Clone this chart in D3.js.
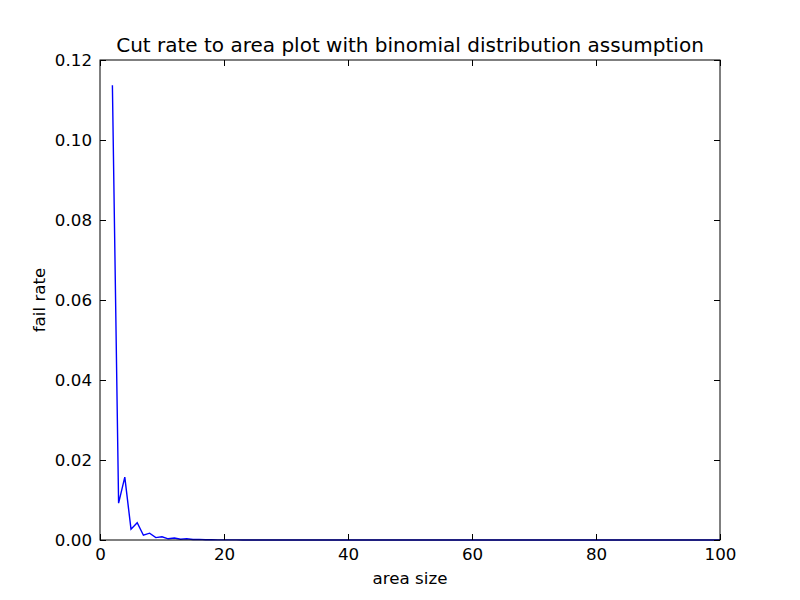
<!DOCTYPE html>
<html><head><meta charset="utf-8">
<script src="https://cdn.jsdelivr.net/npm/d3@7"></script>
<style>body{margin:0;background:#fff}text{font-family:"DejaVu Sans",sans-serif}</style>
</head><body><svg id="c" width="800" height="600"></svg>
<script>
const areaSizes = d3.range(2, 101);
const failRates = [0.1137,0.0092,0.0157,0.0027,0.0043,0.0012,0.0017,0.0006,0.0008,0.0003,0.0005,0.0002,0.0003,0.00012,0.00015,0.00006,0.00008,0.00003,0.00004,0.00002,0.00002,0.00001,0.00001,0.000005,0.000005,0.000003,0.000003,0.000002,0.000002,0.000001,0.000001,0,0,0,0,0,0,0,0,0,0,0,0,0,0,0,0,0,0,0,0,0,0,0,0,0,0,0,0,0,0,0,0,0,0,0,0,0,0,0,0,0,0,0,0,0,0,0,0,0,0,0,0,0,0,0,0,0,0,0,0,0,0,0,0,0,0,0,0];
const xTicks = [0,20,40,60,80,100];
const yTicks = [0,0.02,0.04,0.06,0.08,0.10,0.12];
const titleText = "Cut rate to area plot with binomial distribution assumption";

const svg = d3.select("#c");
const L=100,R=720,T=60,B=540;
const x = d3.scaleLinear().domain([0,100]).range([L,R]);
const y = d3.scaleLinear().domain([0,0.12]).range([B,T]);
const data = areaSizes.map((a,i)=>({a, r: failRates[i]}));

svg.append("path").datum(data).attr("fill","none").attr("stroke","#0000ff").attr("stroke-width",1.4)
  .attr("d", d3.line().x(d=>x(d.a)).y(d=>y(d.r)));

const tl=6;
const gx = svg.append("g").attr("transform",`translate(0,${B})`)
  .call(d3.axisBottom(x).tickValues(xTicks).tickSize(-tl).tickPadding(8).tickFormat(d3.format("d")));
const gxt = svg.append("g").attr("transform",`translate(0,${T})`)
  .call(d3.axisTop(x).tickValues(xTicks).tickSize(-tl).tickFormat(""));
const gy = svg.append("g").attr("transform",`translate(${L},0)`)
  .call(d3.axisLeft(y).tickValues(yTicks).tickSize(-tl).tickPadding(8).tickFormat(d3.format(".2f")));
const gyr = svg.append("g").attr("transform",`translate(${R},0)`)
  .call(d3.axisRight(y).tickValues(yTicks).tickSize(-tl).tickFormat(""));
[gx,gxt,gy,gyr].forEach(g=>{g.select(".domain").remove();g.selectAll("line").attr("stroke","#000");
  g.selectAll("text").attr("font-size",16.7).attr("fill","#000").style("font-family","DejaVu Sans");});
svg.append("rect").attr("x",L).attr("y",T).attr("width",R-L).attr("height",B-T).attr("fill","none").attr("stroke","#000").attr("stroke-width",1);

svg.append("text").attr("x",(L+R)/2).attr("y",52).attr("text-anchor","middle").attr("font-size",20).text(titleText);
svg.append("text").attr("x",(L+R)/2).attr("y",584).attr("text-anchor","middle").attr("font-size",16.7).text("area size");
svg.append("text").attr("transform",`translate(45,${(T+B)/2}) rotate(-90)`).attr("text-anchor","middle").attr("font-size",16.7).text("fail rate");
</script></body></html>
